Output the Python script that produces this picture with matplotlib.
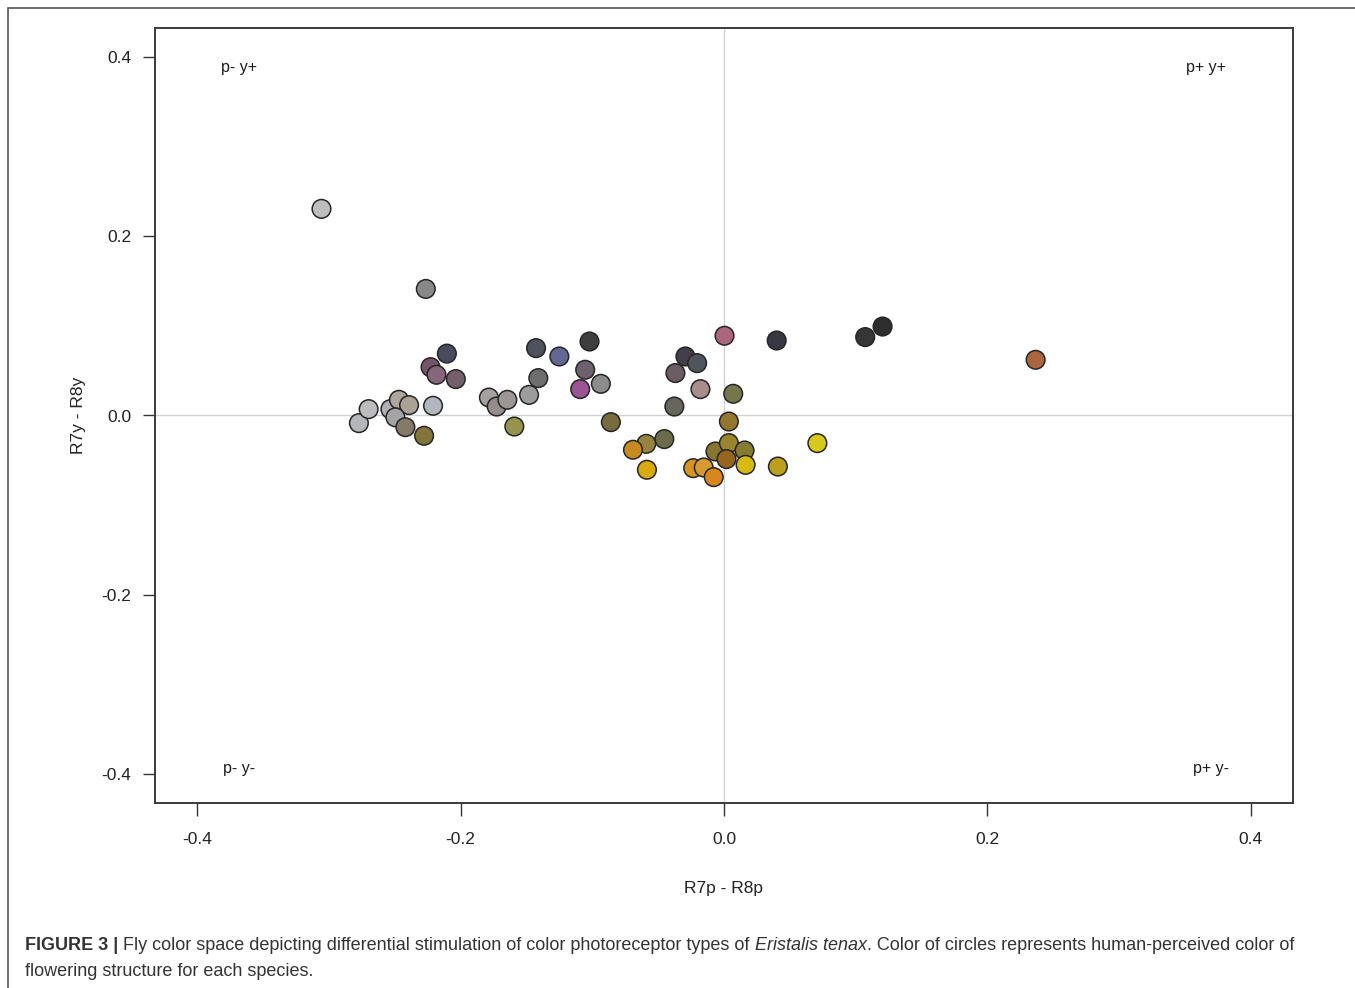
import matplotlib
matplotlib.use('Agg')
import matplotlib.pyplot as plt
from matplotlib.patches import Rectangle
import numpy as np

plt.rcParams['font.family'] = ['Liberation Sans', 'DejaVu Sans']

# differential stimulation values
r7p_r8p = [-0.3056, -0.2264, -0.2104, -0.2228, -0.2183, -0.2036, -0.2772, -0.2698,
           -0.2533, -0.2468, -0.2391, -0.2495, -0.2419, -0.2277, -0.2209, -0.1785,
           -0.1726, -0.1645, -0.1480, -0.1592, -0.1427, -0.1250, -0.1021, -0.1410,
           -0.1054, -0.1092, -0.0935, -0.0859, 0.0004, 0.0400, -0.0293, -0.0204,
           -0.0369, -0.0179, 0.0070, -0.0377, 0.0037, -0.0453, -0.0590, -0.0691,
           -0.0585, -0.0065, 0.0037, 0.0156, 0.0019, 0.0164, -0.0234, -0.0154,
           -0.0078, 0.0409, 0.0709, 0.1072, 0.1204, 0.2366]
r7y_r8y = [0.2304, 0.1411, 0.0690, 0.0539, 0.0454, 0.0406, -0.0085, 0.0071,
           0.0071, 0.0175, 0.0116, -0.0020, -0.0130, -0.0226, 0.0108, 0.0200,
           0.0100, 0.0175, 0.0230, -0.0123, 0.0751, 0.0658, 0.0825, 0.0417,
           0.0510, 0.0294, 0.0353, -0.0074, 0.0889, 0.0836, 0.0658, 0.0584,
           0.0473, 0.0294, 0.0242, 0.0100, -0.0067, -0.0263, -0.0316, -0.0382,
           -0.0605, -0.0401, -0.0308, -0.0390, -0.0486, -0.0550, -0.0587, -0.0580,
           -0.0687, -0.0569, -0.0308, 0.0874, 0.0992, 0.0621]
# human-perceived flower colours
flower_colors = ['#bebebe', '#888888', '#4a4a5e', '#74566a', '#86667a', '#74606a', '#b4b6b9', '#bcbcbe',
                 '#b0b0b4', '#aca69c', '#aaa294', '#a4a4a6', '#847a6a', '#84743c', '#b2b6be', '#a6a0a0',
                 '#968c8c', '#9c9694', '#9c9c9c', '#94944c', '#4e525c', '#666694', '#3e3e3e', '#6e6e6e',
                 '#6c616c', '#9a5694', '#8c8c8c', '#766c3e', '#aa667c', '#383842', '#433e48', '#4e555c',
                 '#6c5c64', '#aa8c8c', '#76764c', '#66665c', '#94762e', '#6c6c4c', '#94843e', '#c88a1e',
                 '#d8aa10', '#86762e', '#9a852e', '#867c2e', '#94661e', '#d8ba10', '#d8941e', '#d89a2e',
                 '#d8861e', '#baa01e', '#d8c81e', '#363636', '#2e2e2e', '#aa663e']

quad_labels = ['p- y+', 'p+ y+', 'p- y-', 'p+ y-']
quad_x = [-0.368, 0.366, -0.368, 0.370]
quad_y = [0.388, 0.388, -0.394, -0.394]
ticks = [-0.4, -0.2, 0.0, 0.2, 0.4]

fig = plt.figure(figsize=(13.55, 9.88), dpi=100)
fig.patches.append(Rectangle((8 / 1355, -0.1), 1.2, 1 - 8 / 988 + 0.1, transform=fig.transFigure,
                             fill=False, edgecolor='#555555', linewidth=1.2))

ax = fig.add_axes([155 / 1355, 1 - 803 / 988, (1293 - 155) / 1355, (803 - 28) / 988])
ax.axvline(0, color='#cfd3d6', linewidth=1.0, zorder=1)
ax.axhline(0, color='#cfd3d6', linewidth=1.0, zorder=1)
ax.scatter(r7p_r8p, r7y_r8y, s=180, c=flower_colors, edgecolors='#262626', linewidths=1.1, zorder=3)

for lab, qx, qy in zip(quad_labels, quad_x, quad_y):
    ax.text(qx, qy, lab, ha='center', va='center', fontsize=11.5, color='#1a1a1a')

ax.set_xlim(-0.432, 0.432)
ax.set_ylim(-0.432, 0.432)
ax.set_xticks(ticks)
ax.set_yticks(ticks)
ax.set_xticklabels([f'{t:.1f}' for t in ticks])
ax.set_yticklabels([f'{t:.1f}' for t in ticks])
ax.tick_params(axis='x', direction='out', length=9, width=1, colors='#333333', labelsize=12.5,
               labelcolor='#222222', pad=12)
ax.tick_params(axis='y', direction='out', length=9, width=1, colors='#333333', labelsize=12.5,
               labelcolor='#222222', pad=8)
for sp in ax.spines.values():
    sp.set_color('#3a3a3a')
    sp.set_linewidth(1.4)
ax.set_xlabel('R7p - R8p', fontsize=12.5, color='#222222', labelpad=24)
ax.set_ylabel('R7y - R8y', fontsize=12.5, color='#222222', labelpad=11)

# caption: bold lead, italic species name
fig.canvas.draw()
r = fig.canvas.get_renderer()
parts = [('FIGURE 3 | ', 'bold', 'normal'),
         ('Fly color space depicting differential stimulation of color photoreceptor types of ', 'normal', 'normal'),
         ('Eristalis tenax', 'normal', 'italic'),
         ('. Color of circles represents human-perceived color of', 'normal', 'normal')]
x0 = 25 / 1355
y1 = 1 - 945 / 988
for txt, wt, st in parts:
    t = fig.text(x0, y1, txt, fontsize=12.95, fontweight=wt, fontstyle=st, color='#333333', va='center')
    x0 = t.get_window_extent(r).x1 / 1355
fig.text(25 / 1355, 1 - 971 / 988, 'flowering structure for each species.', fontsize=12.95,
         color='#333333', va='center')

fig.savefig('out.png', dpi=100, facecolor='white')
